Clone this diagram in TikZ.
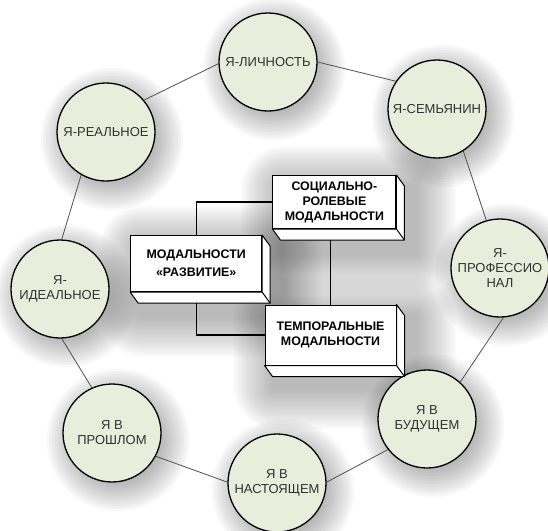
\documentclass[tikz,border=0pt]{standalone}
\usepackage{fontspec}
\setmainfont{Liberation Sans}
\usetikzlibrary{calc}
\definecolor{cfill}{RGB}{233,237,220}
\definecolor{ctext}{RGB}{50,50,50}
\definecolor{cline}{RGB}{80,80,80}
\tikzset{
  selfc/.style={circle, draw=black, line width=1.3pt, fill=cfill, minimum size=98pt, inner sep=0pt, align=center, font=\fontsize{13}{15}\selectfont, text=ctext},
  ring/.style={draw=cline, line width=0.8pt},
  modbox/.style={rectangle, draw=black, line width=1pt, fill=white, align=center, font=\fontsize{12.4}{15}\selectfont\bfseries, inner sep=0pt},
  bevelface/.style={draw=black, line width=1pt, fill=white, line join=round},
  link/.style={draw=black, line width=1.1pt},
  softgray/.style={fill=black, opacity=0.027},
  softbox/.style={fill=black, opacity=0.017},
}
\newcommand\boxshadow[4]{\foreach \k in {1,...,20}{\fill[softbox, rounded corners=2.2*\k] (#1+8-2*\k, #2+10-2*\k) rectangle (#3+12+2*\k, #4+14+2*\k);}}
\newcommand\boxbevel[1]{%
  \draw[bevelface] (#1.south west) -- ([shift={(8,11)}]#1.south west) -- ([shift={(8,11)}]#1.south east) -- ([shift={(8,11)}]#1.north east) -- (#1.north east) -- (#1.south east) -- cycle;
  \draw[bevelface] (#1.south east) -- ([shift={(8,11)}]#1.south east);}
\begin{document}
\begin{tikzpicture}[x=1pt,y=-1pt]
\useasboundingbox (0,0) rectangle (548,530);
% centres
\coordinate (pL) at (268,62);
\coordinate (pS) at (437,109);
\coordinate (pR) at (106,132);
\coordinate (pP) at (500,268);
\coordinate (pI) at (60,289);
\coordinate (pPR) at (112,433);
\coordinate (pN) at (277,483);
\coordinate (pB) at (427,419);
% soft shadows
\boxshadow{272.7}{175.7}{404}{240}
\boxshadow{130.7}{235.7}{270}{303}
\boxshadow{265}{305}{404}{375}
\foreach \c in {pL,pS,pR,pP,pI,pPR,pN,pB}{
  \foreach \k in {1,...,12}{
    \fill[softgray] ([shift={(6,7)}]\c) circle[radius={40pt+2.6pt*\k}];
  }
}
% circles
\node[selfc] (L) at (pL) {Я-ЛИЧНОСТЬ};
\node[selfc] (S) at (pS) {Я-СЕМЬЯНИН};
\node[selfc] (R) at (pR) {Я-РЕАЛЬНОЕ};
\node[selfc] (P) at (pP) {Я-\\ПРОФЕССИО\\НАЛ};
\node[selfc] (I) at (pI) {Я-\\ИДЕАЛЬНОЕ};
\node[selfc] (PR) at (pPR) {Я В\\ПРОШЛОМ};
\node[selfc] (N) at (pN) {Я В\\НАСТОЯЩЕМ};
\node[selfc] (B) at (pB) {Я В\\БУДУЩЕМ};
% ring connectors
\draw[ring] (L.182) -- (R.40);
\draw[ring] (L.0) -- (S.146);
\draw[ring] (S.302) -- (P.106);
\draw[ring] (P.274) -- (B.48);
\draw[ring] (B.218) -- (N.1);
\draw[ring] (N.179) -- (PR.332);
\draw[ring] (PR.114) -- (I.272);
\draw[ring] (I.88) -- (R.240);
% boxes
\node[modbox, minimum width=123pt, minimum height=53pt] (b1) at (334.4,202) {СОЦИАЛЬНО-\\РОЛЕВЫЕ\\МОДАЛЬНОСТИ};
\node[modbox, minimum width=131pt, minimum height=56pt] (b2) at (196.2,263.7) {МОДАЛЬНОСТИ\\[3pt]«РАЗВИТИЕ»};
\node[modbox, minimum width=131pt, minimum height=60pt] (b3) at (330.5,335) {ТЕМПОРАЛЬНЫЕ\\МОДАЛЬНОСТИ};
\boxbevel{b1}
\boxbevel{b2}
\boxbevel{b3}
% box connectors
\coordinate (k1) at ([shift={(-4,11)}]b1.south);
\coordinate (k2) at ([shift={(0,11)}]b2.south);
\draw[link] (b2.north) |- (b1.west);
\draw[link] (k2) |- (b3.west);
\draw[link] (k1) -- (k1 |- b3.north);
\end{tikzpicture}
\end{document}
